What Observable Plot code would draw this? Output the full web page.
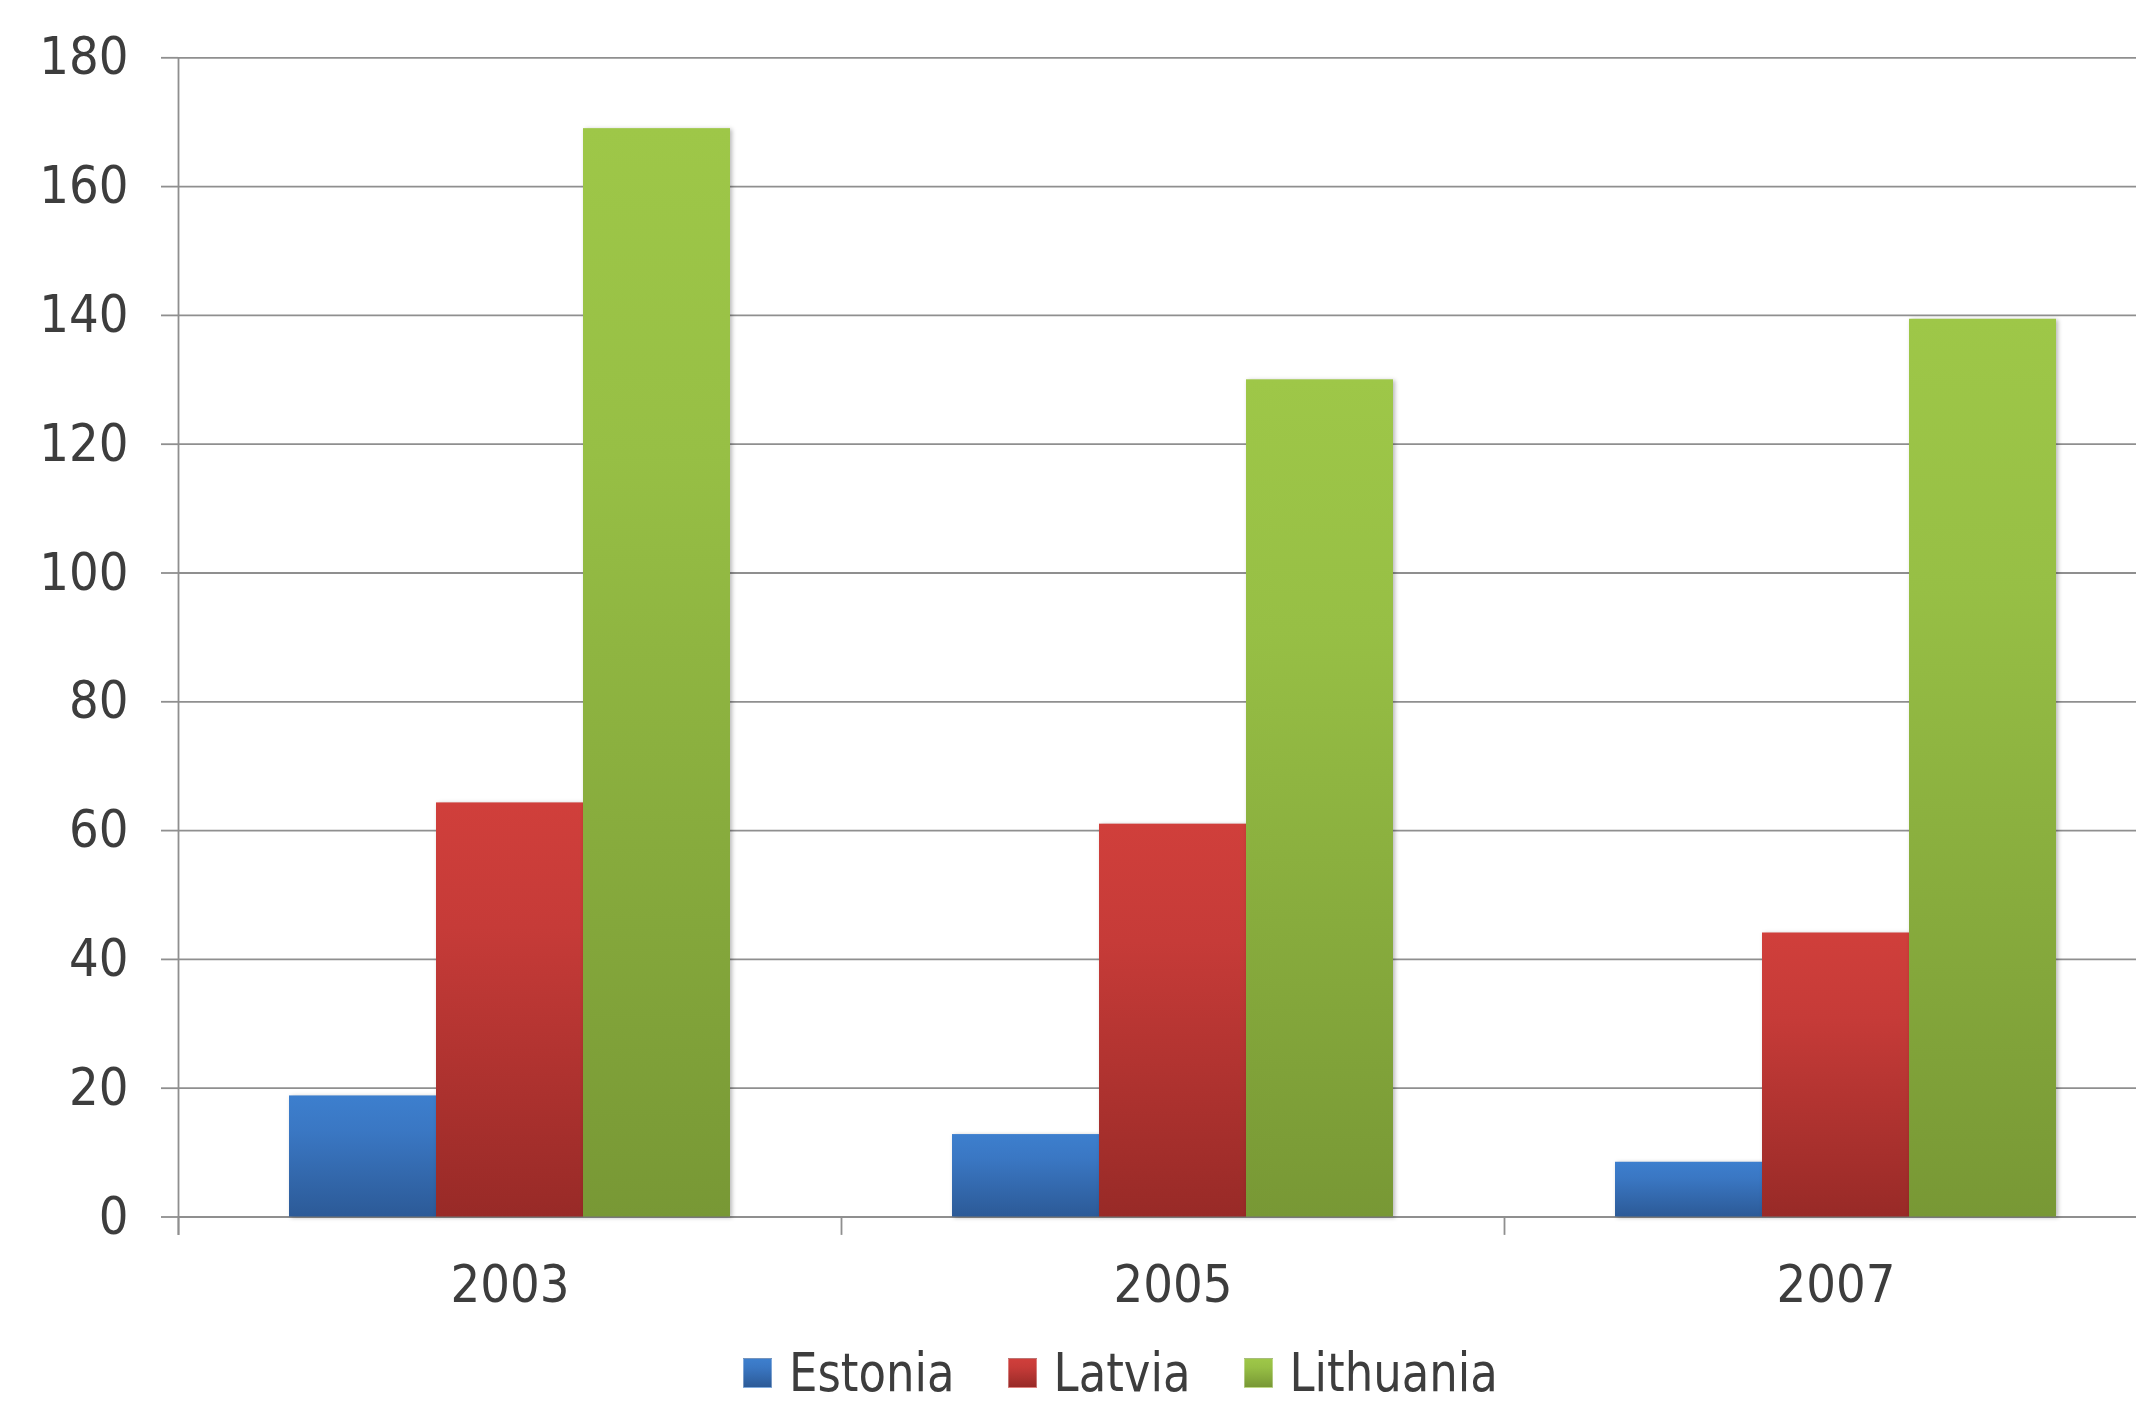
<!DOCTYPE html>
<html>
<head>
<meta charset="utf-8">
<script src="https://cdn.jsdelivr.net/npm/d3@7"></script>
<script src="https://cdn.jsdelivr.net/npm/@observablehq/plot@0.6"></script>
<style>
  html, body { margin: 0; padding: 0; background: #ffffff; overflow: hidden; }
  #chart { width: 2136px; height: 1404px; font-family: "DejaVu Sans Condensed", "DejaVu Sans", sans-serif; color: #3d3d3d; }
  #chart svg { display: block; }
  #chart svg g[aria-label="bar"] rect { filter: drop-shadow(2px 1px 2px rgba(0,0,0,0.28)); }
  .legend { display: flex; align-items: center; height: 62px; padding-top: 17px; padding-left: 743px; font-size: 50px; line-height: 1; }
  .legend .item { display: flex; align-items: center; margin-right: 53px; }
  .legend .sw { width: 29px; height: 30px; margin-right: 17px; box-sizing: border-box; }
  .legend .tx { display: inline-block; transform: scaleY(1.07); }
</style>
</head>
<body>
<div id="chart"></div>
<script>
// ---- data ----
const years = ["2003", "2005", "2007"];
const countries = ["Estonia", "Latvia", "Lithuania"];
const estonia = [18.8, 12.8, 8.5];
const latvia = [64.3, 61.0, 44.1];
const lithuania = [169.0, 130.0, 139.4];
const yTicks = [0, 20, 40, 60, 80, 100, 120, 140, 160, 180];

// ---- styling ----
const gradients = {
  Estonia:   {id: "gEst", top: "#3d7fce", mid: "#3a77c3", bottom: "#2c5a97"},
  Latvia:    {id: "gLat", top: "#d03f3b", mid: "#c63b38", bottom: "#982a27"},
  Lithuania: {id: "gLit", top: "#9ec748", mid: "#97bf45", bottom: "#789835"}
};
const gridColor = "#8f8f8f";
const textColor = "#3d3d3d";

const series = [estonia, latvia, lithuania];
const table = [];
years.forEach((yr, i) => {
  countries.forEach((c, j) => table.push({year: yr, country: c, value: series[j][i]}));
});

const W = 2136, H = 1325;
const mTop = 57.3, mBottom = H - 1216.5, mLeft = 177, mRight = -31.5;
const plotH = H - mTop - mBottom;

const svg = Plot.plot({
  width: W,
  height: H,
  marginTop: mTop,
  marginBottom: mBottom,
  marginLeft: mLeft,
  marginRight: mRight,
  style: {fontFamily: "'DejaVu Sans Condensed', 'DejaVu Sans', sans-serif", fontSize: "52px", color: textColor, background: "#ffffff", overflow: "visible"},
  fx: {domain: years, padding: 0, label: null},
  x: {domain: countries, paddingInner: 0, paddingOuter: 0.75, axis: null},
  y: {domain: [0, 180], label: null, axis: null},
  color: {domain: countries, range: countries.map(c => `url(#${gradients[c].id})`)},
  marks: [
    Plot.gridY(yTicks, {stroke: gridColor, strokeOpacity: 1, strokeWidth: 1.8}),
    Plot.barY(table, {fx: "year", x: "country", y: "value", fill: "country", inset: 0}),
    Plot.frame({anchor: "left", facetAnchor: "left", insetBottom: -17, stroke: gridColor, strokeOpacity: 1, strokeWidth: 1.8}),
    Plot.frame({anchor: "left", insetTop: plotH, insetBottom: -17, stroke: gridColor, strokeOpacity: 1, strokeWidth: 1.8}),
    Plot.axisY(yTicks, {tickSize: 17, tickPadding: 33, stroke: gridColor, strokeWidth: 1.8, fill: textColor, fontSize: 52, label: null}),
    Plot.axisFx({anchor: "bottom", tickSize: 0, tickPadding: 48, fill: textColor, fontSize: 52, label: null})
  ]
});

// gradient definitions for bars
const defs = d3.select(svg).insert("defs", ":first-child");
countries.forEach(c => {
  const g = gradients[c];
  const lg = defs.append("linearGradient").attr("id", g.id).attr("x1", 0).attr("y1", 0).attr("x2", 0).attr("y2", 1);
  lg.append("stop").attr("offset", "0").attr("stop-color", g.top);
  lg.append("stop").attr("offset", "0.3").attr("stop-color", g.mid);
  lg.append("stop").attr("offset", "1").attr("stop-color", g.bottom);
});

const chart = document.getElementById("chart");
chart.appendChild(svg);

// legend below the plot
const legend = document.createElement("div");
legend.className = "legend";
countries.forEach(c => {
  const g = gradients[c];
  const item = document.createElement("div");
  item.className = "item";
  const sw = document.createElement("span");
  sw.className = "sw";
  sw.style.background = `linear-gradient(to bottom, ${g.top}, ${g.mid} 30%, ${g.bottom})`;
  sw.style.border = "1px solid rgba(255,255,255,0.35)";
  const tx = document.createElement("span");
  tx.className = "tx";
  tx.textContent = c;
  item.appendChild(sw);
  item.appendChild(tx);
  legend.appendChild(item);
});
chart.appendChild(legend);
</script>
</body>
</html>
